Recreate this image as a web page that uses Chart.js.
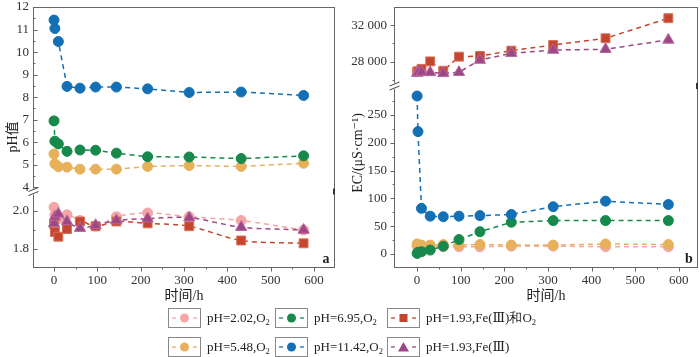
<!DOCTYPE html>
<html><head><meta charset="utf-8">
<script src="https://cdn.jsdelivr.net/npm/chart.js@4.4.1/dist/chart.umd.min.js"></script>
<style>
body{margin:0;background:#fff;}
#wrap{position:relative;width:700px;height:357px;overflow:hidden;font-family:"Liberation Serif","DejaVu Serif",serif;}
canvas{position:absolute;top:0;}
#c1{left:0;} #c2{left:350px;}
.lb{position:absolute;width:33px;height:20px;border:1px solid #888;box-sizing:border-box;background:#fff;}
.lt{position:absolute;font-size:13px;color:#222;white-space:nowrap;line-height:20px;}
.lt sub{font-size:8.5px;vertical-align:-3px;}
</style></head>
<body><div id="wrap">
<canvas id="c1" width="350" height="357"></canvas>
<canvas id="c2" width="350" height="357"></canvas>
</div>
<script>
// ---------- data ----------
const timesH = [0, 2, 10, 30, 60, 96, 144, 216, 312, 432, 576];
const xTickValues = [0, 100, 200, 300, 400, 500, 600];

const pH_202     = [2.02, 1.98, 1.96, 1.98, 1.95, 1.92, 1.97, 1.99, 1.97, 1.95, 1.90];
const pH_695     = [6.95, 6.05, 5.93, 5.60, 5.66, 5.65, 5.52, 5.36, 5.35, 5.28, 5.40];
const pH_193FeO2 = [1.93, 1.89, 1.865, 1.905, 1.945, 1.92, 1.945, 1.935, 1.92, 1.845, 1.83];
const pH_548     = [5.48, 5.05, 4.92, 4.90, 4.81, 4.81, 4.81, 4.93, 4.97, 4.93, 5.07];
const pH_1142    = [11.42, 11.05, 10.47, 8.48, 8.40, 8.45, 8.45, 8.37, 8.21, 8.23, 8.08];
const pH_193Fe   = [1.935, 1.97, 1.985, 1.945, 1.91, 1.925, 1.95, 1.96, 1.965, 1.915, 1.90];

const ec_202     = [14, 14, 13, 13, 13, 13, 13, 14, 14, 13, 13];
const ec_695     = [1, 3, 4, 7, 14, 26, 40, 57, 60, 60, 60];
const ec_193FeO2 = [26890, 26950, 27210, 28030, 27000, 28550, 28620, 29210, 29830, 30570, 32770];
const ec_548     = [18, 17, 16, 16, 17, 16, 17, 16, 16, 18, 17];
const ec_1142    = [284, 220, 82, 68, 67, 68, 69, 71, 85, 95, 89];
const ec_193Fe   = [26760, 26800, 26850, 26820, 26720, 26840, 28180, 28920, 29280, 29360, 30390];

const phLowTicks = [1.8, 2.0];
const phHighTicks = [4, 5, 6, 7, 8, 9, 10, 11, 12];
const ecLowTicks = [0, 50, 100, 150, 200, 250];
const ecHighTicks = [28000, 32000];

const seriesNames = ['pH=2.02,O<sub>2</sub>', 'pH=6.95,O<sub>2</sub>', 'pH=1.93,Fe(Ⅲ)和O<sub>2</sub>',
                     'pH=5.48,O<sub>2</sub>', 'pH=11.42,O<sub>2</sub>', 'pH=1.93,Fe(Ⅲ)'];
const xTitle = '时间/h';
const yTitleLeft = 'pH值';
const yTitleRight = 'EC/(μS·cm⁻¹)';

// ---------- styles ----------
const C = {pink:'#F4A5A5', green:'#17894B', red:'#C4462E', orange:'#E7B15C', blue:'#1470B4', purple:'#9C4886'};
const FONT = '"Liberation Serif","DejaVu Serif",serif';

function pts(arr){ return timesH.map((t,i)=>({x:t, y:arr[i]})); }
function ds(arr, color, style, axis, tension, border){
  return {data:pts(arr), yAxisID:axis, borderColor:color, backgroundColor:color,
    pointBackgroundColor:color, pointBorderColor:border||color, pointBorderWidth:1,
    pointStyle:style, pointRadius: style==='circle'?5:(style==='rect'?6.3:6.5),
    borderWidth:1.5, borderDash:[5,4], tension:tension||0, fill:false};
}

const decor = {
  id:'decor',
  afterDraw(chart, args, o){
    const ctx = chart.ctx, a = chart.chartArea;
    ctx.save();
    ctx.strokeStyle = '#666'; ctx.lineWidth = 1;
    ctx.strokeRect(Math.round(a.left)+0.5, Math.round(a.top)+0.5, Math.round(a.right-a.left)-1, Math.round(a.bottom-a.top)-1);
    const L = Math.round(a.left)+0.5, B = Math.round(a.bottom)-0.5;
    const xs = chart.scales.x;
    for (let v = 0; v <= 600; v += 50) {
      const px = Math.round(xs.getPixelForValue(v))+0.5, len = v%100===0?4:2;
      ctx.beginPath(); ctx.moveTo(px, B); ctx.lineTo(px, B+len); ctx.stroke();
    }
    for (const id of ['yLow','yHigh']) {
      const s = chart.scales[id], spec = o.yt[id];
      const draw = (v,len)=>{ const py = Math.round(s.getPixelForValue(v))+0.5;
        ctx.beginPath(); ctx.moveTo(L, py); ctx.lineTo(L + o.dir*len, py); ctx.stroke(); };
      spec.major.forEach(v=>draw(v,4)); spec.minor.forEach(v=>draw(v,2));
    }
    const yb = chart.scales.yHigh.bottom;
    ctx.fillStyle = '#fff'; ctx.fillRect(L-1.5, yb-3, 3, 6);
    ctx.strokeStyle = '#444'; ctx.lineWidth = 1;
    [-2, 2].forEach(d=>{ ctx.beginPath(); ctx.moveTo(L-5, yb+d+2); ctx.lineTo(L+5, yb+d-2); ctx.stroke(); });
    ctx.fillStyle = '#333'; ctx.fillRect(Math.round(a.right)-2, yb-3, 2, 6);
    ctx.fillStyle = '#222';
    ctx.font = '14px ' + FONT + ',"Noto Sans CJK SC"';
    ctx.textAlign = 'center'; ctx.textBaseline = 'middle';
    ctx.fillText(xTitle, (a.left+a.right)/2, 296);
    ctx.save(); ctx.translate(o.ytx, o.yty); ctx.rotate(-Math.PI/2);
    ctx.fillText(o.ytitle, 0, 0); ctx.restore();
    ctx.font = 'bold 14px ' + FONT;
    ctx.fillText(o.letter, a.right-9, a.bottom-9);
    ctx.restore();
  }
};

function xScale(min, max){
  return {type:'linear', min, max,
    afterBuildTicks: s => { s.ticks = xTickValues.map(v=>({value:v})); },
    ticks:{font:{family:FONT, size:13}, color:'#333', padding:5, maxRotation:0, autoSkip:false, callback:v=>String(v)},
    grid:{display:false, drawTicks:false}, border:{display:false},
    afterFit: s => { s.height = 32; s.paddingLeft = 0; s.paddingRight = 0; }};
}
function yScale(min, max, weight, ticks, fmt, width, pad){
  return {type:'linear', position:'left', stack:'s', stackWeight:weight, min, max,
    afterBuildTicks: s => { s.ticks = ticks.map(v=>({value:v})); },
    ticks:{font:{family:FONT, size:13}, color:'#333', padding:pad, autoSkip:false, callback:fmt},
    grid:{display:false, drawTicks:false}, border:{display:false},
    afterFit: s => { s.width = width; s.paddingTop = 0; s.paddingBottom = 0; }};
}
const sp = v => { const s = String(v); return s.length>3 ? s.slice(0,-3)+' '+s.slice(-3) : s; };

const common = {responsive:false, animation:false, devicePixelRatio:1,
  plugins:{legend:{display:false}, tooltip:{enabled:false}}};

new Chart(document.getElementById('c1'), {
  type:'line',
  data:{datasets:[
    ds(pH_193Fe, C.purple, 'triangle', 'yLow', 0.3, '#B8679F'),
    ds(pH_193FeO2, C.red, 'rect', 'yLow', 0.3, '#D9725E'),
    ds(pH_202, C.pink, 'circle', 'yLow', 0.3),
    ds(pH_1142, C.blue, 'circle', 'yHigh'),
    ds(pH_695, C.green, 'circle', 'yHigh'),
    ds(pH_548, C.orange, 'circle', 'yHigh')
  ]},
  options:Object.assign({}, common, {
    layout:{autoPadding:false, padding:{left:0, right:15, top:7, bottom:57}},
    scales:{
      x: xScale(-48.5, 648.5),
      yLow: yScale(1.70, 2.103, 76.5, phLowTicks, v=>v.toFixed(1), 33, 4),
      yHigh: yScale(3.82, 12, 184.5, phHighTicks, v=>String(v), 33, 4)
    },
    plugins:Object.assign({}, common.plugins, {decor:{dir:1, letter:'a', ytitle:yTitleLeft, ytx:13, yty:137,
      yt:{yLow:{major:phLowTicks, minor:[1.9]}, yHigh:{major:phHighTicks, minor:[4.5,5.5,6.5,7.5,8.5,9.5,10.5,11.5]}}}})
  }),
  plugins:[decor]
});

new Chart(document.getElementById('c2'), {
  type:'line',
  data:{datasets:[
    ds(ec_193Fe, C.purple, 'triangle', 'yHigh', 0, '#B8679F'),
    ds(ec_193FeO2, C.red, 'rect', 'yHigh', 0, '#D9725E'),
    ds(ec_1142, C.blue, 'circle', 'yLow'),
    ds(ec_695, C.green, 'circle', 'yLow'),
    ds(ec_548, C.orange, 'circle', 'yLow'),
    ds(ec_202, C.pink, 'circle', 'yLow')
  ]},
  options:Object.assign({}, common, {
    layout:{autoPadding:false, padding:{left:0, right:2, top:7, bottom:57}},
    scales:{
      x: xScale(-53, 644),
      yLow: yScale(-25.2, 302, 182, ecLowTicks, v=>String(v), 44, 7),
      yHigh: yScale(25330, 34000, 79, ecHighTicks, sp, 44, 7)
    },
    plugins:Object.assign({}, common.plugins, {decor:{dir:-1, letter:'b', ytitle:yTitleRight, ytx:8, yty:153,
      yt:{yLow:{major:ecLowTicks, minor:[25,75,125,175,225,275]}, yHigh:{major:ecHighTicks, minor:[26000,30000]}}}})
  }),
  plugins:[decor]
});

// ---------- legend (HTML) ----------
const legendStyle = [
  {c:C.pink, s:'circle'}, {c:C.green, s:'circle'}, {c:C.red, s:'rect'},
  {c:C.orange, s:'circle'}, {c:C.blue, s:'circle'}, {c:C.purple, s:'triangle'}];
const colX = [168, 275, 387], rowY = [308, 337];
const wrap = document.getElementById('wrap');
seriesNames.forEach((name, i) => {
  const col = i % 3, row = Math.floor(i / 3), st = legendStyle[i];
  const box = document.createElement('div');
  box.className = 'lb'; box.style.left = colX[col]+'px'; box.style.top = rowY[row]+'px';
  let mk = st.s==='circle' ? `<circle cx="15.5" cy="9" r="4.5" fill="${st.c}"/>`
         : st.s==='rect' ? `<rect x="11.5" y="5" width="8" height="8" fill="${st.c}"/>`
         : `<polygon points="15.5,4 21,13.5 10,13.5" fill="${st.c}"/>`;
  box.innerHTML = `<svg width="31" height="18" style="position:absolute;left:0;top:0"><line x1="3" y1="9" x2="7" y2="9" stroke="${st.c}" stroke-width="1.3"/><line x1="24" y1="9" x2="28" y2="9" stroke="${st.c}" stroke-width="1.3"/>${mk}</svg>`;
  wrap.appendChild(box);
  const t = document.createElement('div');
  t.className = 'lt'; t.style.left = (colX[col]+39)+'px'; t.style.top = rowY[row]+'px';
  t.innerHTML = name; wrap.appendChild(t);
});
</script>
</body></html>
